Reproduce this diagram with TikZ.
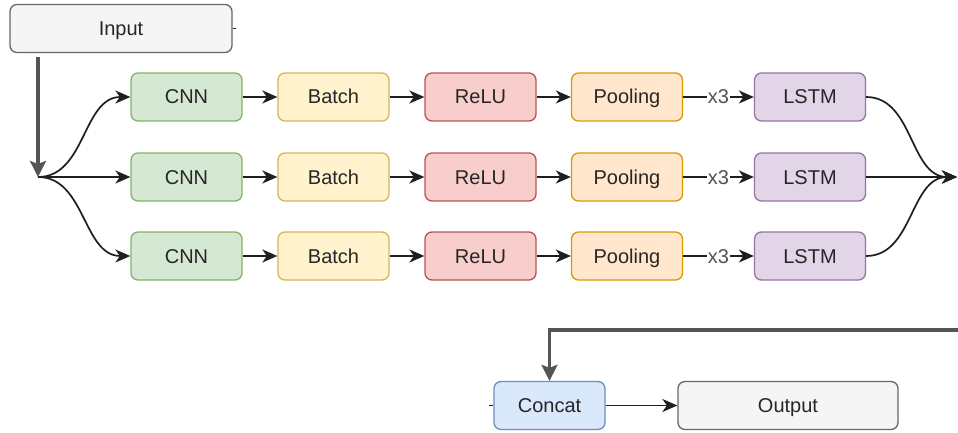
\documentclass[tikz,border=0pt]{standalone}
\usepackage{fontspec}
\setmainfont{Liberation Sans}
\usetikzlibrary{arrows.meta}
\definecolor{txt}{HTML}{262626}
\definecolor{gfill}{HTML}{D5E8D4}\definecolor{gline}{HTML}{82B366}
\definecolor{yfill}{HTML}{FFF2CC}\definecolor{yline}{HTML}{D6B656}
\definecolor{rfill}{HTML}{F8CECC}\definecolor{rline}{HTML}{B85450}
\definecolor{ofill}{HTML}{FFE6CC}\definecolor{oline}{HTML}{D79B00}
\definecolor{pfill}{HTML}{E1D5E7}\definecolor{pline}{HTML}{9673A6}
\definecolor{bfill}{HTML}{DAE8FC}\definecolor{bline}{HTML}{6C8EBF}
\definecolor{nfill}{HTML}{F5F5F5}\definecolor{nline}{HTML}{666666}
\definecolor{flow}{HTML}{555555}
\tikzset{
  blk/.style={draw, rounded corners=7pt, line width=1.3pt, minimum width=111pt,
    minimum height=48pt, inner sep=0pt, text=txt, text height=14pt, text depth=0pt,
    font=\fontsize{20}{24}\selectfont},
  cnn/.style={blk, fill=gfill, draw=gline},
  bn/.style={blk, fill=yfill, draw=yline},
  relu/.style={blk, fill=rfill, draw=rline},
  pool/.style={blk, fill=ofill, draw=oline},
  lstm/.style={blk, fill=pfill, draw=pline},
  cat/.style={blk, fill=bfill, draw=bline},
  io/.style={blk, fill=nfill, draw=nline},
  conn/.style={draw=black!88, line width=1.7pt, -{Stealth[length=15pt,width=13pt,inset=4.5pt]}},
  thick flow/.style={draw=flow, line width=3.4pt, -{Stealth[length=16pt,width=16pt,inset=3pt]}},
  rep/.style={fill=white, inner sep=1pt, text=txt!80, text height=14pt, text depth=0pt,
    font=\fontsize{20}{24}\selectfont},
}
\begin{document}
\begin{tikzpicture}[x=1pt,y=-1pt]
\useasboundingbox (0,0) rectangle (958,433);

\node[io, minimum width=222pt] (inp) at (121,28.5) {Input};
\coordinate (split) at (38,177);
\coordinate (merge) at (957,177);
\coordinate (feed) at (962,330);

\foreach \r/\y in {1/97,2/177,3/256}{
  \node[cnn]  (cnn\r)  at (186.5,\y) {CNN};
  \node[bn]   (bn\r)   at (333.5,\y) {Batch};
  \node[relu] (relu\r) at (480.5,\y) {ReLU};
  \node[pool] (pool\r) at (627,\y)   {Pooling};
  \node[lstm] (lstm\r) at (810,\y)   {LSTM};
  \draw[conn] (split) to[out=0,in=180] (cnn\r.west);
  \draw[conn] (cnn\r) -- (bn\r);
  \draw[conn] (bn\r) -- (relu\r);
  \draw[conn] (relu\r) -- (pool\r);
  \draw[conn] (pool\r) -- node[rep] {x3} (lstm\r);
  \draw[conn] (lstm\r.east) to[out=0,in=180] (merge);
}

\node[cat] (cat) at (549.5,405.5) {Concat};
\node[io, minimum width=220pt] (out) at (788,405.5) {Output};

\draw[thick flow] (inp.south -| split) ++(0,4) -- (split);
\draw[thick flow] (feed) -| (cat.north);
\draw[conn] (cat) -- (out);

% short edge stubs
\coordinate (istub) at (236,28.5);
\coordinate (cstub) at (489,405.5);
\draw[black!85, line width=1.6pt] (inp.east) -- (istub);
\draw[black!85, line width=1.6pt] (cat.west) -- (cstub);
\end{tikzpicture}
\end{document}
